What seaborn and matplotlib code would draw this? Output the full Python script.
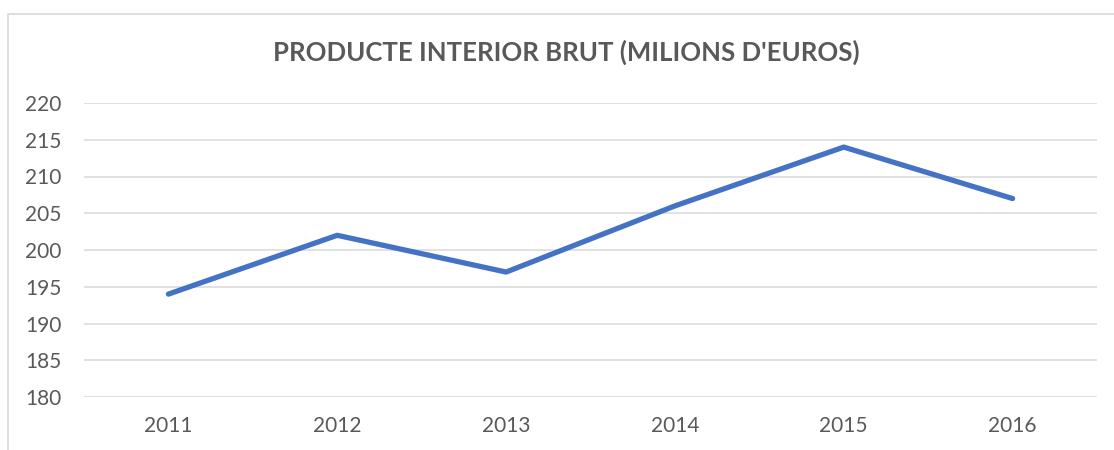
import matplotlib
matplotlib.use("Agg")
import matplotlib.pyplot as plt
import seaborn as sns
import pandas as pd
from matplotlib.patches import Rectangle

years = ["2011", "2012", "2013", "2014", "2015", "2016"]
pib = [194, 202, 197, 206, 214, 207]
yticks = [180, 185, 190, 195, 200, 205, 210, 215, 220]
title = "PRODUCTE INTERIOR BRUT (MILIONS D'EUROS)"

sns.set_theme(style="white")
plt.rcParams['font.family'] = ['Lato', 'DejaVu Sans']

df = pd.DataFrame({"any": years, "pib": pib})

fig = plt.figure(figsize=(11.14, 4.5), dpi=100)
ax = fig.add_axes([84/1114, 1-397/450, (1097-84)/1114, (397-103)/450])

sns.lineplot(data=df, x="any", y="pib", ax=ax, color="#4472C4", linewidth=3.8,
             sort=False, solid_joinstyle="round", solid_capstyle="round")

ax.set_xlim(-0.5, len(years) - 0.5)
ax.set_ylim(180, 220)
ax.set_yticks(yticks)
ax.set_yticklabels([str(t) for t in yticks])
ax.set_xlabel("")
ax.set_ylabel("")
for s in ax.spines.values():
    s.set_visible(False)
ax.grid(axis="y", color="#D9D9D9", linewidth=1.1)
ax.grid(axis="x", visible=False)
ax.set_axisbelow(True)
ax.tick_params(axis="y", length=0, pad=16, labelsize=15, labelcolor="#595959")
ax.tick_params(axis="x", length=0, pad=14, labelsize=15, labelcolor="#595959")

fig.text(566/1114, 1-52/450, title, ha="center", va="center", fontsize=18.5,
         fontweight="bold", color="#595959")

fig.patches.append(Rectangle((8/1114, -0.1), 1.2, 1-14/450 + 0.1,
                             transform=fig.transFigure, fill=False,
                             edgecolor="#D9D9D9", linewidth=1.2))

fig.savefig("out.png", dpi=100, facecolor="white")
